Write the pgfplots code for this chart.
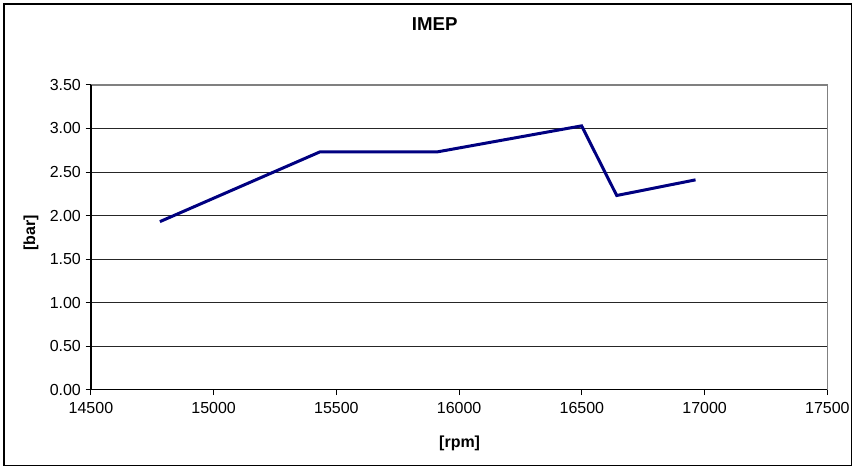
\documentclass[border=0pt]{standalone}
\usepackage{pgfplots}
\pgfplotsset{compat=1.18}
\usepackage{fontspec}
\setmainfont{Liberation Sans}
\definecolor{navy}{HTML}{000080}
\begin{document}
\begin{tikzpicture}[x=1pt,y=1pt]
    % page and outer frame (1px = 0.75pt)
    \fill[white] (-68.25,-58.5) rectangle (572.25,292.5);
    \draw[black, line width=0.9pt] (-65.25,-57) rectangle (570.75,289.5);
    \begin{axis}[
            at={(0,0)}, anchor=origin,
            scale only axis,
            width=552.75pt, height=228.75pt,
            xmin=14500, xmax=17500,
            ymin=0, ymax=3.5,
            xtick={14500,15000,...,17500},
            ytick={0,0.5,...,3.5},
            scaled x ticks=false, scaled y ticks=false,
            xticklabel={\pgfmathprintnumber[fixed, precision=0, 1000 sep={}, assume math mode=true]{\tick}},
            yticklabel={\pgfmathprintnumber[fixed, fixed zerofill, precision=2, assume math mode=true]{\tick}},
            tick label style={font=\fontsize{12}{14}\selectfont},
            xticklabel style={yshift=-2pt},
            axis line style={draw=none},
            ymajorgrids,
            grid style={black!85, line width=0.75pt},
            tick style={black, line width=0.75pt},
            tick align=outside,
            major tick length=4pt,
            xtick pos=bottom, ytick pos=left,
            title={\textbf{IMEP}},
            title style={at={(0.4668,1.1738)}, anchor=center, font=\fontsize{14}{16}\selectfont},
            xlabel={\textbf{[rpm]}},
            xlabel style={at={(0.5007,-0.177)}, anchor=center, font=\fontsize{12}{14}\selectfont},
            ylabel={\textbf{[bar]}},
            ylabel style={at={(-0.0814,0.5148)}, anchor=center, font=\fontsize{12}{14}\selectfont},
            clip=false,
        ]
        \draw[gray, line width=0.9pt] (rel axis cs:0,1) -- (rel axis cs:1,1) -- (rel axis cs:1,0);
        \draw[black, line width=0.9pt] (rel axis cs:0,1) -- (rel axis cs:0,0) -- (rel axis cs:1,0);
        \addplot[color=navy, line width=2.25pt, line join=miter, mark=none] coordinates {
            (14781, 1.93)
            (15432, 2.73)
            (15909, 2.73)
            (16499, 3.03)
            (16642, 2.23)
            (16963, 2.41)
        };
    \end{axis}
\end{tikzpicture}
\end{document}
